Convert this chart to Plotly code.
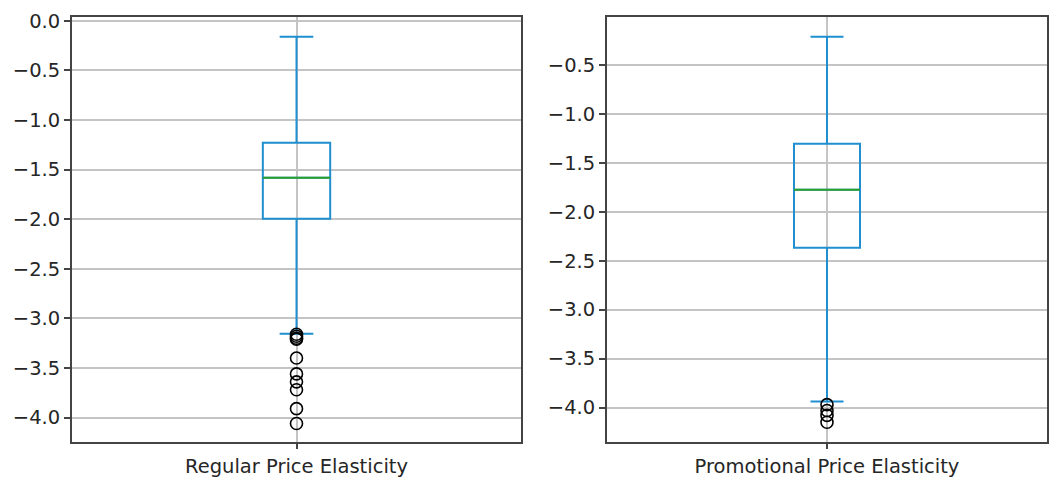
import plotly.graph_objects as go

# ---- data ----
labels = ["Regular Price Elasticity", "Promotional Price Elasticity"]
q1 = [-1.995, -2.367]
median = [-1.582, -1.776]
q3 = [-1.229, -1.306]
lower_whisker = [-3.154, -3.939]
upper_whisker = [-0.161, -0.214]
outliers_regular = [-3.16, -3.18, -3.20, -3.21, -3.40, -3.56, -3.64, -3.72, -3.91, -4.06]
outliers_promo = [-3.97, -4.03, -4.08, -4.15]
outliers = [outliers_regular, outliers_promo]
yranges = [[-4.242, 0.04], [-4.347, -0.010]]
yticks = [[0.0, -0.5, -1.0, -1.5, -2.0, -2.5, -3.0, -3.5, -4.0],
          [-0.5, -1.0, -1.5, -2.0, -2.5, -3.0, -3.5, -4.0]]

BLUE = "#1f8fd0"
GREEN = "#2ca02c"
W = 0.15

fig = go.Figure()
xdoms = [[72 / 1049, 521 / 1049], [607 / 1049, 1047 / 1049]]
ydom = [1 - 441 / 480, 1 - 10 / 480]

for i in range(2):
    xa = "x" if i == 0 else "x2"
    ya = "y" if i == 0 else "y2"
    fig.add_trace(go.Box(
        x=[1], q1=[q1[i]], median=[median[i]], q3=[q3[i]],
        lowerfence=[lower_whisker[i]], upperfence=[upper_whisker[i]],
        width=W, whiskerwidth=0.5, boxpoints=False,
        line=dict(color=BLUE, width=2), fillcolor="rgba(0,0,0,0)",
        xaxis=xa, yaxis=ya, showlegend=False, hoverinfo="skip",
    ))
    fig.add_trace(go.Scatter(
        x=[1 - W / 2, 1 + W / 2], y=[median[i], median[i]], mode="lines",
        line=dict(color=GREEN, width=2), xaxis=xa, yaxis=ya,
        showlegend=False, hoverinfo="skip",
    ))
    fig.add_trace(go.Scatter(
        x=[1] * len(outliers[i]), y=outliers[i], mode="markers",
        marker=dict(symbol="circle-open", size=12, color="black", line=dict(width=1.6)),
        xaxis=xa, yaxis=ya, showlegend=False, hoverinfo="skip",
    ))

axis_common = dict(
    showline=True, linecolor="#444444", linewidth=1.8, mirror=True,
    ticks="outside", ticklen=6, tickcolor="#444444", tickwidth=1.5,
    showgrid=True, gridcolor="#c4c4c4", gridwidth=1.8, zeroline=False,
    tickfont=dict(family="DejaVu Sans", size=19.5, color="#262626"),
)

for i in range(2):
    sfx = "" if i == 0 else "2"
    fig.update_layout(**{
        "xaxis" + sfx: dict(axis_common, domain=xdoms[i], range=[0.5, 1.5],
                            tickvals=[1], ticktext=[labels[i]],
                            anchor="y" + sfx),
        "yaxis" + sfx: dict(axis_common, domain=ydom, range=yranges[i],
                            tickvals=yticks[i], tickformat=".1f",
                            anchor="x" + sfx),
    })

fig.update_layout(
    width=1049, height=480, margin=dict(l=0, r=0, t=0, b=0),
    paper_bgcolor="white", plot_bgcolor="white",
)

fig.write_html("out.html")
